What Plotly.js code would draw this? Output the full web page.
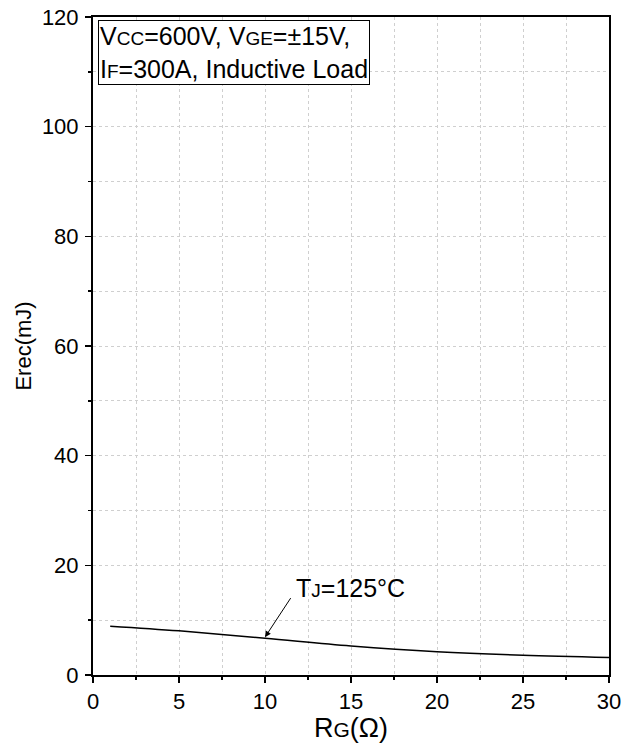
<!DOCTYPE html>
<html><head><meta charset="utf-8">
<script src="https://cdn.plot.ly/plotly-3.0.1.min.js"></script>
<style>body{margin:0;background:#fff}#chart{width:628px;height:743px}</style>
</head><body><div id="chart"></div>
<script>
const rg = [1, 5, 10, 15, 20, 25, 30];
const erec = [8.9, 8.05, 6.7, 5.3, 4.25, 3.6, 3.2];
const xTicks = [0, 5, 10, 15, 20, 25, 30];
const yTicks = [0, 20, 40, 60, 80, 100, 120];

const S = t => '<span style="font-size:19px">' + t + '</span>';
const F = 'Arial, "Liberation Sans", sans-serif';

const axisBase = {
  showline: true, linecolor: '#000', linewidth: 2, mirror: true,
  ticks: 'outside', ticklen: 6, tickwidth: 1.5, tickcolor: '#000',
  showgrid: true, gridcolor: '#cfcfcf', griddash: 'dot', gridwidth: 1,
  zeroline: false, tickfont: {family: F, size: 22, color: '#000'}
};

const layout = {
  width: 628, height: 743,
  margin: {l: 93, r: 19, t: 17, b: 68},
  paper_bgcolor: '#fff', plot_bgcolor: '#fff',
  showlegend: false,
  font: {family: F, color: '#000'},
  xaxis: Object.assign({}, axisBase, {
    range: [0, 30], tickvals: xTicks,
    minor: {dtick: 2.5, tick0: 0, ticks: 'outside', ticklen: 3, tickcolor: '#000', showgrid: true, gridcolor: '#cfcfcf', griddash: 'dot'},
    title: {text: 'R<span style="font-size:21px">G</span>(Ω)', font: {family: F, size: 27, color: '#000'}, standoff: 0}
  }),
  yaxis: Object.assign({}, axisBase, {
    range: [0, 120], tickvals: yTicks, ticklabelstandoff: 2,
    minor: {dtick: 10, tick0: 0, ticks: 'outside', ticklen: 3, tickcolor: '#000', showgrid: true, gridcolor: '#cfcfcf', griddash: 'dot'},
    title: {text: 'Erec(mJ)', font: {family: F, size: 22, color: '#000'}, standoff: 4}
  }),
  annotations: [
    {
      xref: 'paper', yref: 'paper', x: 0.01, y: 0.996, xanchor: 'left', yanchor: 'top',
      text: 'V' + S('CC') + '=600V, V' + S('GE') + '=±15V,<br>I' + S('F') + '=300A, Inductive Load',
      align: 'left', showarrow: false, bordercolor: '#000', borderwidth: 1, borderpad: 1,
      bgcolor: '#fff', font: {family: F, size: 25, color: '#000'}
    },
    {
      x: 10, y: 6.9, ax: 11.55, ay: 14.3, axref: 'x', ayref: 'y',
      text: '', showarrow: true, arrowhead: 2, arrowsize: 1.2, arrowwidth: 1, arrowcolor: '#000'
    },
    {
      x: 11.7, y: 15.8, xanchor: 'left', yanchor: 'middle', showarrow: false,
      text: 'T' + S('J') + '=125°C', font: {family: F, size: 25, color: '#000'}
    }
  ]
};

Plotly.newPlot('chart', [{
  x: rg, y: erec, type: 'scatter', mode: 'lines',
  line: {color: '#000', width: 1.5, shape: 'spline'}
}], layout, {staticPlot: true});
</script></body></html>
